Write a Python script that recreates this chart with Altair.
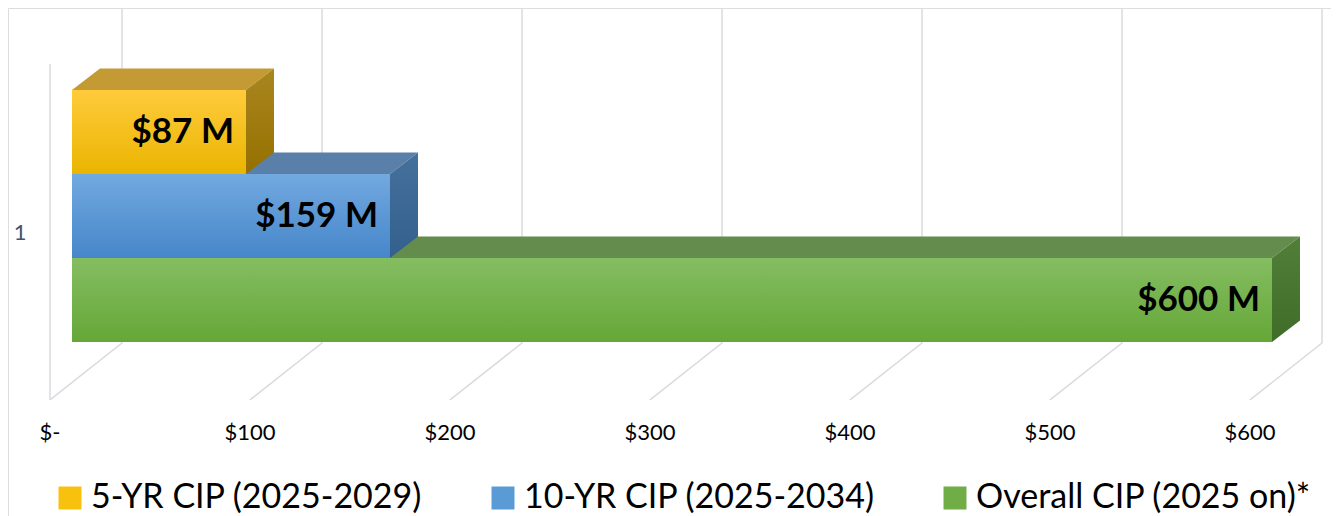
import altair as alt
import pandas as pd

# ---------------- data ----------------
series = ["5-YR CIP (2025-2029)", "10-YR CIP (2025-2034)", "Overall CIP (2025 on)*"]
values = [87, 159, 600]
bar_labels = ["$87 M", "$159 M", "$600 M"]
tick_values = [0, 100, 200, 300, 400, 500, 600]
tick_labels = ["$-", "$100", "$200", "$300", "$400", "$500", "$600"]
category_labels = ["1"]

# ---------------- styles ----------------
legend_colors = ["#F8C10E", "#5B9BD5", "#70AD47"]
front_top = ["#FFCB3C", "#72A9E0", "#85BD62"]
front_bottom = ["#EAB500", "#4686CA", "#65A737"]
top_face = ["#C39A33", "#5A7FA8", "#648C4C"]
side_top = ["#AA8620", "#46709C", "#527F38"]
side_bottom = ["#957000", "#33608E", "#3F6C28"]

FONT = "Lato"
W, H = 1323, 508
PX = 84.0                        # pixels per y unit
X_DOMAIN = [-32, 629.5]          # 2 px per dollar
Y_DOMAIN = [-82 / PX, (H - 82) / PX]  # one unit = one bar height
DX, DY = 14, 0.256               # 3-D depth of the bars
WALL_DX, FLOOR_DX = 25, -11      # back wall / floor front x-offsets
WALL_TOP, FLOOR_BACK, FLOOR_FRONT = -0.964, 3.012, 3.69
LEFT_WALL_TOP = -0.31

xs = alt.Scale(domain=X_DOMAIN, nice=False, zero=False)
ys = alt.Scale(domain=Y_DOMAIN, range=[0, H], nice=False, zero=False)


def X(f, **kw):
    return alt.X(f, type="quantitative", scale=xs, axis=None, **kw)


def Y(f, **kw):
    return alt.Y(f, type="quantitative", scale=ys, axis=None, **kw)


GRID = "#D9D9DF"

# ---------------- walls & floor ----------------
grid_df = pd.DataFrame({"t": tick_values})
grid_df["xw"] = grid_df["t"] + WALL_DX
grid_df["xf"] = grid_df["t"] + FLOOR_DX
grid_df["yt"] = WALL_TOP
grid_df["yb"] = FLOOR_BACK
grid_df["yf"] = FLOOR_FRONT

back_grid = alt.Chart(grid_df).mark_rule(color=GRID, strokeWidth=1.5).encode(
    x=X("xw"), y=Y("yt"), y2="yb")
floor_grid = alt.Chart(grid_df).mark_rule(color=GRID, strokeWidth=1.5).encode(
    x=X("xw"), y=Y("yb"), x2="xf", y2="yf")
left_wall = alt.Chart(grid_df.head(1)).mark_rule(color=GRID, strokeWidth=1.5).encode(
    x=X("xf"), y=Y("ylt"), y2="yf").transform_calculate(ylt=str(LEFT_WALL_TOP))

tick_df = pd.DataFrame({"t": tick_values, "label": tick_labels})
tick_df["x"] = tick_df["t"] + FLOOR_DX
tick_df["y"] = 4.083
tick_text = alt.Chart(tick_df).mark_text(
    font=FONT, fontSize=22, color="#000000", align="center", baseline="middle"
).encode(x=X("x"), y=Y("y"), text="label:N")

cat_df = pd.DataFrame({"label": category_labels, "x": [-26], "y": [1.70]})
cat_text = alt.Chart(cat_df).mark_text(
    font=FONT, fontSize=22, color="#44546A", align="center", baseline="middle"
).encode(x=X("x"), y=Y("y"), text="label:N")

# ---------------- bars ----------------
bars = pd.DataFrame({"series": series, "value": values, "label": bar_labels})
bars["i"] = range(len(series))
bars["y0"] = bars["i"]
bars["y1"] = bars["i"] + 1
bars["zero"] = 0

legend_layer = alt.Chart(bars).mark_rect().encode(
    x=X("zero"), x2="value", y=Y("y0"), y2="y1",
    color=alt.Color("series:N",
                    scale=alt.Scale(domain=series, range=legend_colors),
                    sort=series,
                    legend=alt.Legend(
                        title=None, orient="none", direction="horizontal",
                        legendX=45, legendY=473, symbolType="square",
                        symbolSize=529, symbolStrokeWidth=0,
                        labelFont=FONT, labelFontSize=34, labelColor="#000000",
                        labelOffset=4, columnPadding=63, padding=0,
                        labelLimit=600)),
)

layers = [back_grid, floor_grid, left_wall, legend_layer]

for k in reversed(range(len(series))):
    s, v, i = series[k], values[k], k
    top_df = pd.DataFrame({"y": [i - DY, i], "xa": [DX, 0], "xb": [v + DX, v]})
    side_df = pd.DataFrame({"x": [v, v + DX], "ya": [i, i - DY],
                            "yb": [i + 1, i + 1 - DY]})
    front_df = bars.iloc[[k]]
    top = alt.Chart(top_df).mark_area(orient="horizontal", color=top_face[k]).encode(
        y=Y("y"), x=X("xa"), x2="xb")
    side = alt.Chart(side_df).mark_area(
        orient="vertical",
        color=alt.Gradient(gradient="linear", x1=0, x2=0, y1=0, y2=1, stops=[
            alt.GradientStop(color=side_top[k], offset=0),
            alt.GradientStop(color=side_bottom[k], offset=1)])
    ).encode(x=X("x"), y=Y("ya"), y2="yb")
    front = alt.Chart(front_df).mark_rect(
        fill=alt.Gradient(gradient="linear", x1=0, x2=0, y1=0, y2=1, stops=[
            alt.GradientStop(color=front_top[k], offset=0),
            alt.GradientStop(color=front_bottom[k], offset=1)])
    ).encode(x=X("zero"), x2="value", y=Y("y0"), y2="y1")
    layers += [top, side, front]

labels = alt.Chart(bars).mark_text(
    font=FONT, fontSize=35, fontWeight="bold", color="#000000",
    align="right", baseline="middle", dx=-12
).encode(x=X("value"), y=Y("ymid:Q"), text="label:N").transform_calculate(
    ymid="datum.i + 0.5")

layers += [labels, tick_text, cat_text]

chart = alt.layer(*layers).properties(
    width=W, height=H, autosize=alt.AutoSizeParams(type="none"), padding=0
).configure_view(stroke=None).configure(background="#FFFFFF")

chart.save("out.html", embed_options={"renderer": "svg", "actions": False})
